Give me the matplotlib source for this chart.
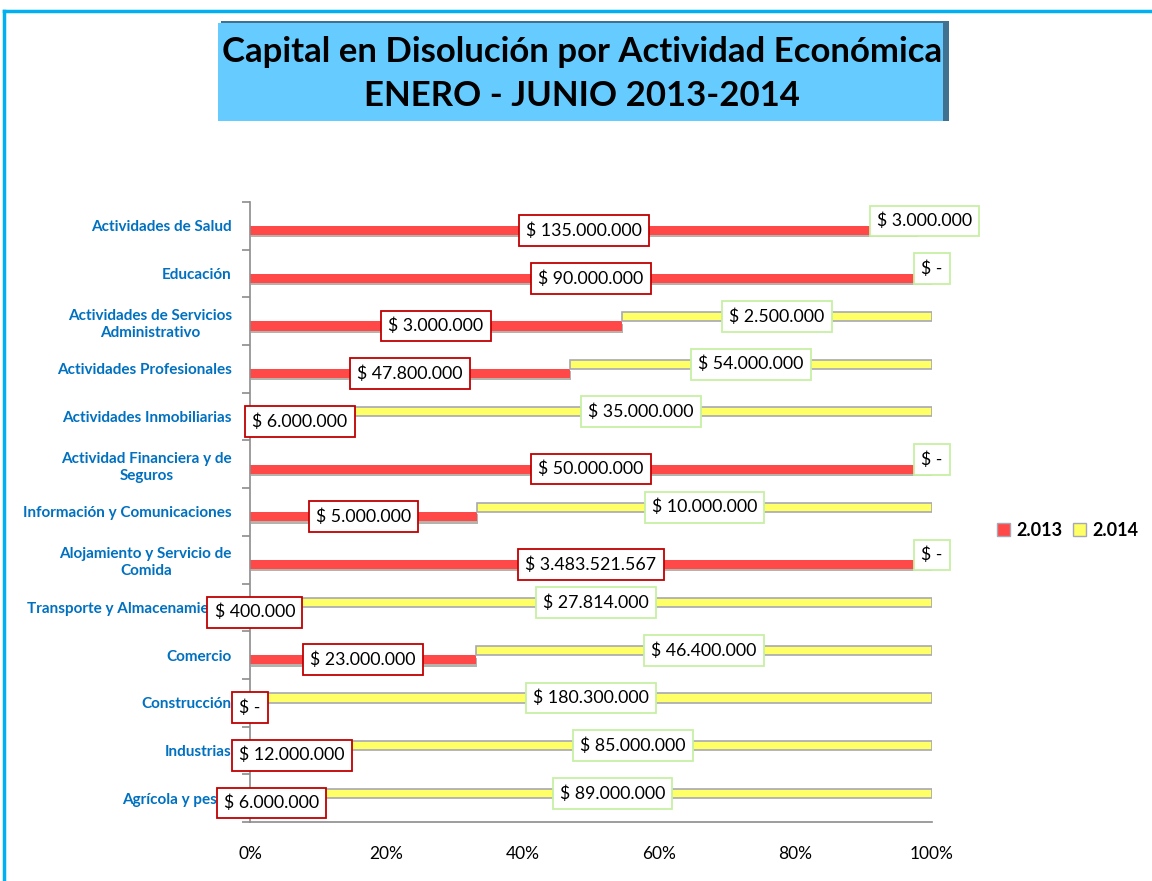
import numpy as np
import matplotlib
matplotlib.use("Agg")
import matplotlib.pyplot as plt
import matplotlib.patheffects as pe
from matplotlib.patches import Rectangle, Patch
from matplotlib.lines import Line2D

plt.rcParams["font.family"] = ["Lato", "DejaVu Sans"]

# categories top to bottom as in the chart
categories = [
    "Actividades de Salud",
    "Educación",
    "Actividades de Servicios\nAdministrativo",
    "Actividades Profesionales",
    "Actividades Inmobiliarias",
    "Actividad Financiera y de\nSeguros",
    "Información y Comunicaciones",
    "Alojamiento y Servicio de\nComida",
    "Transporte y Almacenamiento",
    "Comercio",
    "Construcción",
    "Industrias",
    "Agrícola y pesca",
]
capital_2013 = [135000000, 90000000, 3000000, 47800000, 6000000, 50000000,
                5000000, 3483521567, 400000, 23000000, 0, 12000000, 6000000]
capital_2014 = [3000000, 0, 2500000, 54000000, 35000000, 0,
                10000000, 0, 27814000, 46400000, 180300000, 85000000, 89000000]
series_names = ["2.013", "2.014"]
x_ticks = [0, 20, 40, 60, 80, 100]

RED = "#FF4848"
YELLOW = "#FFFF66"
GRAY = "#A8A8B4"
BLUE = "#0070C0"


def fmt(v):
    if v == 0:
        return "$ -"
    return "$ " + f"{v:,}".replace(",", ".")


v13 = np.array(capital_2013, dtype=float)
v14 = np.array(capital_2014, dtype=float)
tot = v13 + v14
p13 = v13 / tot * 100
p14 = v14 / tot * 100
y = np.arange(len(categories))

fig = plt.figure(figsize=(11.52, 8.81), dpi=100)
ax = fig.add_axes([250 / 1152, 1 - 822 / 881, 682 / 1152, 620 / 881])

h = 0.19
off = 0.1
bars13 = ax.barh(y + off, p13, height=h, color=RED, edgecolor="none", zorder=2)
for b in bars13:
    b.set_path_effects([pe.SimplePatchShadow(offset=(0.6, -1.6), shadow_rgbFace="#B4B4AC", alpha=1), pe.Normal()])
ax.barh(y - off, p14, left=p13, height=h, color=YELLOW, edgecolor=GRAY, linewidth=1.2, zorder=2)

# data labels
for i in range(len(categories)):
    ax.text(p13[i] / 2, y[i] + off, fmt(capital_2013[i]), ha="center", va="center",
            fontsize=12.8, color="black", zorder=6, clip_on=False,
            bbox=dict(boxstyle="square,pad=0.4", fc="white", ec="#C00000", lw=1.3))
    ax.text(p13[i] + p14[i] / 2, y[i] - off, fmt(capital_2014[i]), ha="center", va="center",
            fontsize=12.8, color="black", zorder=5, clip_on=False,
            bbox=dict(boxstyle="square,pad=0.4", fc="white", ec="#C6F0A4", lw=1.3))

ax.set_xlim(0, 100)
ax.set_ylim(len(categories) - 0.5, -0.5)
ax.set_xticks(x_ticks)
ax.set_xticklabels([f"{t}%" for t in x_ticks], fontsize=12.5)
ax.tick_params(axis="x", length=0, pad=17)

ax.set_yticks(y)
ax.set_yticklabels(categories, fontsize=11, fontweight="bold", color=BLUE,
                   multialignment="center", linespacing=1.3)
ax.tick_params(axis="y", which="major", length=0, pad=13)
ax.set_yticks(np.arange(len(categories) + 1) - 0.5, minor=True)
ax.tick_params(axis="y", which="minor", length=6, color="#8C8C8C", width=1.2)

for s in ["top", "right"]:
    ax.spines[s].set_visible(False)
ax.spines["left"].set_color("#8C8C8C")
ax.spines["bottom"].set_color("#8C8C8C")
ax.spines["left"].set_linewidth(1.2)
ax.spines["bottom"].set_linewidth(1.2)

# legend
handles = [Patch(facecolor=RED, edgecolor=GRAY), Patch(facecolor=YELLOW, edgecolor=GRAY)]
fig.legend(handles, series_names, loc="center left", bbox_to_anchor=(990 / 1152, 1 - 530 / 881),
           ncol=2, frameon=False, handlelength=0.7, handleheight=0.7, handletextpad=0.35,
           columnspacing=0.6, borderpad=0.2, borderaxespad=0.2, prop=dict(size=13, weight="bold"))

# title box
fig.patches.append(Rectangle((221 / 1152, 1 - 121 / 881), 728 / 1152, 100 / 881,
                             transform=fig.transFigure, facecolor="#3F7290", edgecolor="none", zorder=0))
fig.patches.append(Rectangle((218 / 1152, 1 - 121 / 881), 725 / 1152, 98 / 881,
                             transform=fig.transFigure, facecolor="#66CCFF", edgecolor="none", zorder=1))
fig.text(582 / 1152, 1 - 52 / 881, "Capital en Disolución por Actividad Económica",
         ha="center", va="center", fontsize=25, fontweight="bold", color="black")
fig.text(582 / 1152, 1 - 96 / 881, "ENERO - JUNIO 2013-2014",
         ha="center", va="center", fontsize=25, fontweight="bold", color="black")

# outer frame
fig.lines.append(Line2D([4 / 1152, 1], [1 - 11 / 881, 1 - 11 / 881], transform=fig.transFigure,
                        color="#00B0F0", lw=2.5))
fig.lines.append(Line2D([4 / 1152, 4 / 1152], [0, 1 - 11 / 881], transform=fig.transFigure,
                        color="#00B0F0", lw=2.5))

fig.savefig("out.png", dpi=100)
